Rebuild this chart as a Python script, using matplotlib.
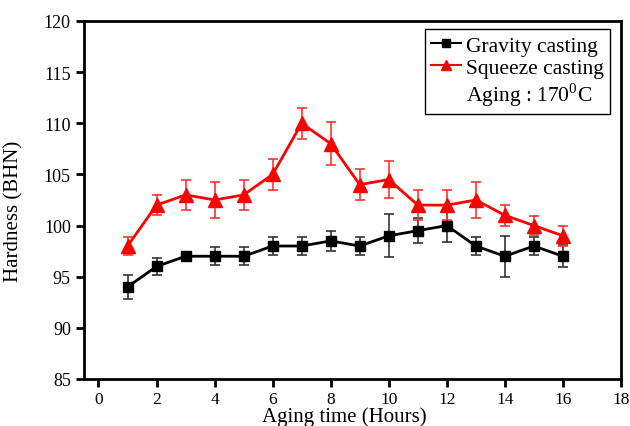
import numpy as np
import matplotlib.pyplot as plt
from matplotlib.lines import Line2D

plt.rcParams["font.family"] = ["Liberation Serif", "DejaVu Serif"]

# Aging time in hours.
hours = [1, 2, 3, 4, 5, 6, 7, 8, 9, 10, 11, 12, 13, 14, 15, 16]

# Hardness values.
gravity = [94, 96, 97, 97, 97, 98, 98, 98.5, 98, 99, 99.5, 100, 98, 97, 98, 97]
gravity_err = [1.2, 0.8, 0.4, 0.9, 0.9, 0.9, 0.9, 1.0, 0.9, 2.1, 1.2, 1.6, 0.9, 2.0, 0.9, 1.1]

squeeze = [98, 102, 103, 102.5, 103, 105, 110, 108, 104, 104.5, 102, 102, 102.5, 101, 100, 99]
squeeze_err = [0.9, 1.0, 1.5, 1.8, 1.5, 1.5, 1.5, 2.1, 1.5, 1.8, 1.5, 1.5, 1.8, 1.0, 0.9, 1.0]

x_ticks = np.arange(0, 19, 2)
y_ticks = np.arange(85, 121, 5)

fig = plt.figure(figsize=(6.3, 4.27), dpi=100)
ax = fig.add_axes([0.1333, 0.1101, 0.8524, 0.8384])

# Gravity casting series.
ax.errorbar(hours, gravity, yerr=gravity_err, color="black", marker="s", markersize=7.5,
            linewidth=2, elinewidth=1.2, capsize=3.5, capthick=1.2, ecolor="#333333")

# Squeeze casting series.
ax.errorbar(hours, squeeze, yerr=squeeze_err, color="red", marker="^", markersize=9.5,
            linewidth=2, elinewidth=1.2, capsize=3.5, capthick=1.2, ecolor="#ff3333")

ax.set_xlim(-0.5, 18)
ax.set_ylim(85, 120)
ax.set_xticks(x_ticks)
ax.set_yticks(y_ticks)
ax.tick_params(direction="out", length=5.5, width=2, pad=4)
ax.tick_params(axis="x", labelsize=12.5, pad=3)
ax.tick_params(axis="y", labelsize=13)
for spine in ax.spines.values():
    spine.set_linewidth(2)

ax.set_xlabel("Aging time (Hours)", fontsize=15)
ax.xaxis.set_label_coords(0.484, -0.077)
ax.set_ylabel("Hardness (BHN)", fontsize=15)
ax.yaxis.set_label_coords(-0.113, 0.47)

# Legend with an extra line for the aging temperature.
handles = [
    Line2D([], [], color="black", marker="s", markersize=6, linewidth=1.5),
    Line2D([], [], color="red", marker="^", markersize=7.5, linewidth=1.5),
    Line2D([], [], linestyle="none"),
]
labels = ["Gravity casting", "Squeeze casting", "Aging : 170$^{\\mathregular{0}}$C"]
leg = ax.legend(handles, labels, loc="upper right", bbox_to_anchor=(610 / 630, 1 - 30 / 427),
                bbox_transform=fig.transFigure, borderaxespad=0, fontsize=15.5,
                fancybox=False, edgecolor="black", framealpha=1, handlelength=1.4,
                handletextpad=0.2, labelspacing=0.1, borderpad=0.3)
leg.get_frame().set_linewidth(1)

fig.savefig("out.png", dpi=100)
